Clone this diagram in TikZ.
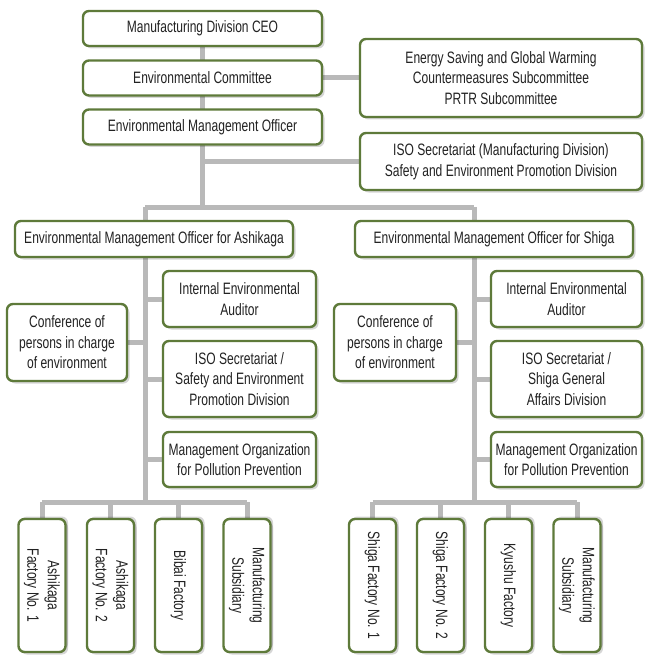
\documentclass[tikz,border=0pt]{standalone}
\usepackage{fontspec}
\setmainfont{Liberation Sans}[FakeStretch=0.73]
\usetikzlibrary{backgrounds,shadows}
\definecolor{boxline}{HTML}{5E7A3A}
\definecolor{linkgray}{HTML}{B9B9B9}
\definecolor{txt}{HTML}{222222}
\tikzset{
  orgbox/.style={draw=boxline, line width=2.4pt, fill=white, rounded corners=6pt,
    align=center, inner sep=2pt, text=txt,
    font=\fontsize{16.5}{20.5}\selectfont,
    drop shadow={shadow xshift=2.5pt, shadow yshift=-2.5pt, fill=black, opacity=0.16}},
  factorybox/.style={orgbox, rotate=-90, minimum width=133pt, minimum height=47pt,
    drop shadow={shadow xshift=2.5pt, shadow yshift=2.5pt, fill=black, opacity=0.16}},
  link/.style={draw=linkgray, line width=5pt}
}
\begin{document}
\begin{tikzpicture}[x=1pt, y=-1pt]
\useasboundingbox (0,0) rectangle (645,655);

% head office chain
\node[orgbox, minimum width=239pt, minimum height=35pt] (ceo) at (202.5,28.5) {Manufacturing Division CEO};
\node[orgbox, minimum width=239pt, minimum height=35pt] (committee) at (202.5,78) {Environmental Committee};
\node[orgbox, minimum width=239pt, minimum height=35pt] (officer) at (202.5,127) {Environmental Management Officer};
\node[orgbox, minimum width=282pt, minimum height=78pt] (energy) at (501,78)
  {Energy Saving and Global Warming\\Countermeasures Subcommittee\\PRTR Subcommittee};
\node[orgbox, minimum width=282pt, minimum height=57pt] (iso) at (501,161.5)
  {ISO Secretariat (Manufacturing Division)\\Safety and Environment Promotion Division};

% site officers
\node[orgbox, minimum width=278pt, minimum height=36pt] (ashi) at (154,239) {Environmental Management Officer for Ashikaga};
\node[orgbox, minimum width=278pt, minimum height=36pt] (shiga) at (494,239) {Environmental Management Officer for Shiga};

% Ashikaga side
\node[orgbox, minimum width=120pt, minimum height=77pt] (acon) at (67,342.5) {Conference of\\persons in charge\\of environment};
\node[orgbox, minimum width=153pt, minimum height=56pt] (aaud) at (239.5,299) {Internal Environmental\\Auditor};
\node[orgbox, minimum width=153pt, minimum height=76pt] (aiso) at (239.5,379) {ISO Secretariat /\\Safety and Environment\\Promotion Division};
\node[orgbox, minimum width=153pt, minimum height=55pt] (amgt) at (239.5,459.5) {Management Organization\\for Pollution Prevention};

% Shiga side
\node[orgbox, minimum width=122pt, minimum height=77pt] (scon) at (395,342.5) {Conference of\\persons in charge\\of environment};
\node[orgbox, minimum width=151pt, minimum height=56pt] (saud) at (566.5,299) {Internal Environmental\\Auditor};
\node[orgbox, minimum width=151pt, minimum height=76pt] (siso) at (566.5,379) {ISO Secretariat /\\Shiga General\\Affairs Division};
\node[orgbox, minimum width=151pt, minimum height=55pt] (smgt) at (566.5,459.5) {Management Organization\\for Pollution Prevention};

% factories
\node[factorybox] (af1) at (42,585.5) {Ashikaga\\Factory No. 1};
\node[factorybox] (af2) at (110.5,585.5) {Ashikaga\\Factory No. 2};
\node[factorybox] (af3) at (178.5,585.5) {Bibai Factory};
\node[factorybox] (af4) at (247,585.5) {Manufacturing\\Subsidiary};
\node[factorybox] (sf1) at (372.5,585.5) {Shiga Factory No. 1};
\node[factorybox] (sf2) at (440.5,585.5) {Shiga Factory No. 2};
\node[factorybox] (sf3) at (508.5,585.5) {Kyushu Factory};
\node[factorybox] (sf4) at (577,585.5) {Manufacturing\\Subsidiary};

% junction points
\coordinate (jmain) at (202,207);
\coordinate (ja) at (145,207);
\coordinate (js) at (474,207);
\coordinate (ta) at (145,502);
\coordinate (ts) at (474,502);

\begin{scope}[on background layer]
  \draw[link] (ceo.south -| jmain) -- (jmain);
  \draw[link] (committee) -- (energy);
  \draw[link] (iso.west -| jmain) -- (iso.west);
  \draw[link] (ja) -- (js);
  \draw[link] (ja) -- (ja |- ashi.north);
  \draw[link] (js) -- (js |- shiga.north);
  % Ashikaga branch
  \draw[link] (ja |- ashi.south) -- (ta);
  \draw[link] (ta |- aaud.west) -- (aaud.west);
  \draw[link] (acon.east) -- (ta |- acon.east);
  \draw[link] (ta |- aiso.west) -- (aiso.west);
  \draw[link] (ta |- amgt.west) -- (amgt.west);
  \draw[link] (af1.west |- ta) -- (af4.west |- ta);
  \foreach \f in {af1,af2,af3,af4} \draw[link] (\f.west |- ta) -- (\f.west);
  % Shiga branch
  \draw[link] (js |- shiga.south) -- (ts);
  \draw[link] (ts |- saud.west) -- (saud.west);
  \draw[link] (scon.east) -- (ts |- scon.east);
  \draw[link] (ts |- siso.west) -- (siso.west);
  \draw[link] (ts |- smgt.west) -- (smgt.west);
  \draw[link] (sf1.west |- ts) -- (sf4.west |- ts);
  \foreach \f in {sf1,sf2,sf3,sf4} \draw[link] (\f.west |- ts) -- (\f.west);
\end{scope}
\end{tikzpicture}
\end{document}
